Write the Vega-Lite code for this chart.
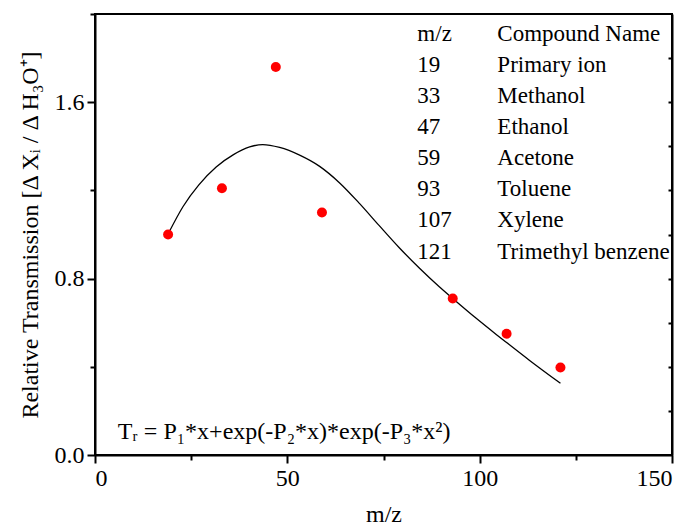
{
  "$schema": "https://vega.github.io/schema/vega-lite/v6.json",
  "width": 577,
  "height": 441,
  "autosize": {"type": "none"},
  "padding": {"left": 95, "top": 14, "right": 22, "bottom": 72},
  "background": "white",
  "config": {
    "view": {"stroke": "black", "strokeWidth": 2},
    "axis": {
      "grid": false,
      "labelFont": "Times New Roman, Liberation Serif, Times, serif",
      "labelFontSize": 24,
      "labelColor": "black",
      "titleFont": "Times New Roman, Liberation Serif, Times, serif",
      "titleFontSize": 24,
      "titleFontWeight": "normal",
      "titleColor": "black",
      "domainColor": "black",
      "domainWidth": 2,
      "tickColor": "black",
      "tickWidth": 2,
      "labelOverlap": false
    },
    "text": {"font": "Times New Roman, Liberation Serif, Times, serif", "color": "black"}
  },
  "datasets": {
    "points": [
      {"mz": 19, "t": 1.0},
      {"mz": 33, "t": 1.21},
      {"mz": 47, "t": 1.76},
      {"mz": 59, "t": 1.1},
      {"mz": 93, "t": 0.71},
      {"mz": 107, "t": 0.55},
      {"mz": 121, "t": 0.397}
    ],
    "fit": [
      {"mz": 19.2, "t": 1.009},
      {"mz": 22.9, "t": 1.127},
      {"mz": 27, "t": 1.225},
      {"mz": 31.5, "t": 1.306},
      {"mz": 36, "t": 1.362},
      {"mz": 40.2, "t": 1.397},
      {"mz": 43.6, "t": 1.408},
      {"mz": 48, "t": 1.395},
      {"mz": 53.2, "t": 1.36},
      {"mz": 58.4, "t": 1.309},
      {"mz": 63.6, "t": 1.234},
      {"mz": 68.8, "t": 1.14},
      {"mz": 73.9, "t": 1.04},
      {"mz": 79.1, "t": 0.94},
      {"mz": 84.3, "t": 0.848},
      {"mz": 89.5, "t": 0.763},
      {"mz": 93.0, "t": 0.71},
      {"mz": 99.1, "t": 0.62},
      {"mz": 104.3, "t": 0.547},
      {"mz": 107.0, "t": 0.51},
      {"mz": 112.9, "t": 0.43},
      {"mz": 121.0, "t": 0.325}
    ],
    "table": [
      {"c1": "m/z", "c2": "Compound Name"},
      {"c1": "19", "c2": "Primary ion"},
      {"c1": "33", "c2": "Methanol"},
      {"c1": "47", "c2": "Ethanol"},
      {"c1": "59", "c2": "Acetone"},
      {"c1": "93", "c2": "Toluene"},
      {"c1": "107", "c2": "Xylene"},
      {"c1": "121", "c2": "Trimethyl benzene"}
    ]
  },
  "layer": [
    {
      "data": {"name": "fit"},
      "mark": {"type": "line", "color": "black", "strokeWidth": 1.3, "interpolate": "monotone"},
      "encoding": {
        "x": {
          "field": "mz",
          "type": "quantitative",
          "scale": {"domain": [0, 150], "nice": false},
          "axis": {
            "orient": "bottom",
            "title": "m/z",
            "values": [0, 25, 50, 75, 100, 125, 150],
            "labelExpr": "datum.value % 50 == 0 ? datum.label : ''",
            "tickSize": {"condition": {"test": "datum.value % 50 == 0", "value": 8}, "value": 5},
            "labelPadding": 3,
            "titlePadding": 12
          }
        },
        "y": {
          "field": "t",
          "type": "quantitative",
          "scale": {"domain": [0, 2], "nice": false},
          "axis": {
            "orient": "left",
            "title": "Relative Transmission [Δ Xᵢ / Δ H₃O⁺]",
            "values": [0, 0.4, 0.8, 1.2, 1.6, 2.0],
            "labelExpr": "datum.value == 0 || datum.value == 0.8 || datum.value == 1.6 ? format(datum.value, '.1f') : ''",
            "tickSize": {"condition": {"test": "datum.value == 0 || datum.value == 0.8 || datum.value == 1.6", "value": 8}, "value": 5},
            "labelPadding": 3,
            "titlePadding": 12
          }
        }
      }
    },
    {
      "data": {"name": "points"},
      "mark": {"type": "circle", "color": "#ff0000", "size": 100, "opacity": 1},
      "encoding": {
        "x": {"field": "mz", "type": "quantitative", "title": "m/z"},
        "y": {
          "field": "t",
          "type": "quantitative",
          "scale": {"domain": [0, 2], "nice": false},
          "axis": {
            "orient": "right",
            "title": null,
            "labels": false,
            "values": [0.2, 0.4, 0.6, 0.8, 1.0, 1.2, 1.4, 1.6, 1.8],
            "tickSize": -4
          }
        }
      }
    },
    {
      "data": {"values": [{"label": "Tᵣ = P₁*x+exp(-P₂*x)*exp(-P₃*x²)"}]},
      "mark": {"type": "text", "align": "left", "baseline": "middle", "fontSize": 24},
      "encoding": {
        "x": {"datum": 5.9, "type": "quantitative"},
        "y": {"datum": 0.103, "type": "quantitative", "scale": {"domain": [0, 2], "nice": false}, "axis": null},
        "text": {"field": "label"}
      }
    },
    {
      "data": {"name": "table"},
      "mark": {"type": "text", "align": "left", "baseline": "middle", "fontSize": 23},
      "encoding": {
        "x": {"datum": 83.8, "type": "quantitative"},
        "y": {"field": "c1", "type": "ordinal", "sort": null, "scale": {"range": [20, 237.5], "padding": 0}, "axis": null},
        "text": {"field": "c1"}
      }
    },
    {
      "data": {"name": "table"},
      "mark": {"type": "text", "align": "left", "baseline": "middle", "fontSize": 23},
      "encoding": {
        "x": {"datum": 104.6, "type": "quantitative"},
        "y": {"field": "c1", "type": "ordinal", "sort": null, "scale": {"range": [20, 237.5], "padding": 0}, "axis": null},
        "text": {"field": "c2"}
      }
    }
  ],
  "resolve": {"scale": {"y": "independent"}, "axis": {"y": "independent"}}
}
